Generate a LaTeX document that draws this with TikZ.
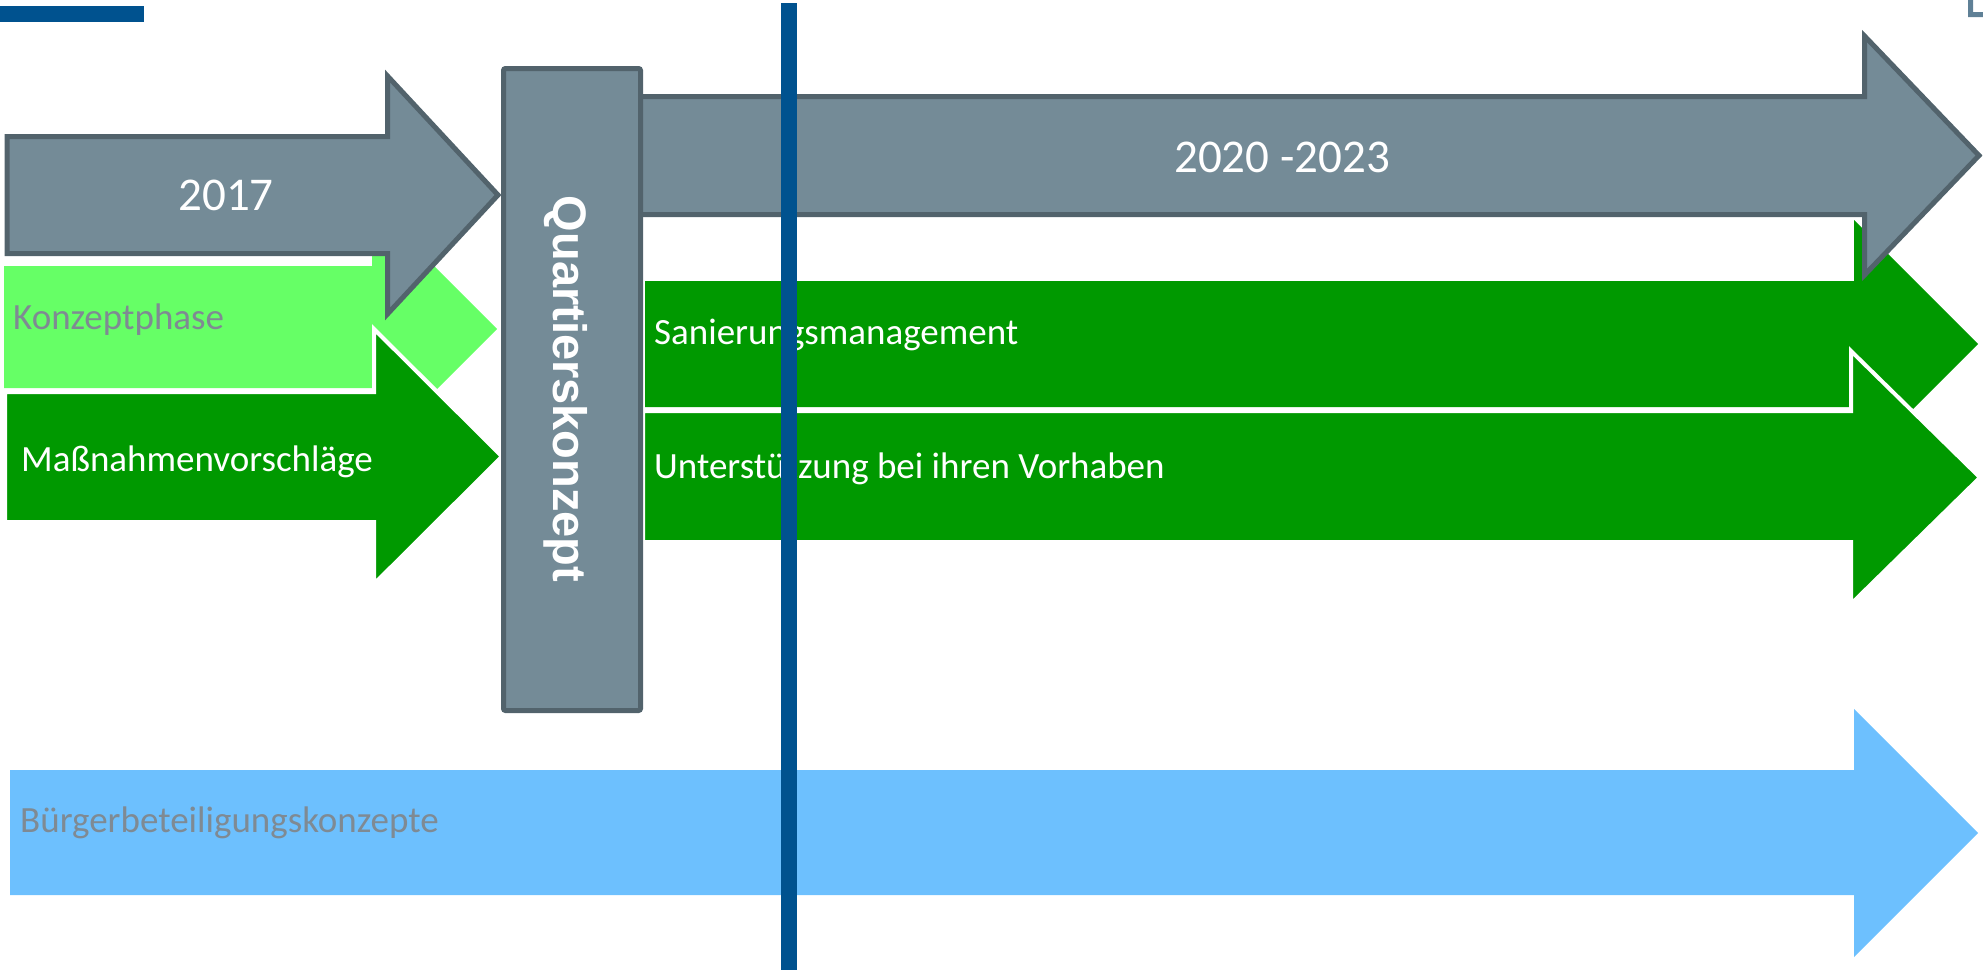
\documentclass[tikz,border=0pt]{standalone}
\usepackage{fontspec}
\setmainfont{Carlito}
\newfontfamily\qfont{Liberation Sans}
\definecolor{qgray}{HTML}{748B97}
\definecolor{qedge}{HTML}{52636C}
\definecolor{lgreen}{HTML}{66FF66}
\definecolor{dgreen}{HTML}{009900}
\definecolor{lblue}{HTML}{6DC0FE}
\definecolor{navy}{HTML}{00528F}
\definecolor{txtgray}{HTML}{7F8A93}
\definecolor{cornerblue}{HTML}{5F8096}
\tikzset{
  grayarrow/.style={fill=qgray, draw=qedge, line width=5bp, miter limit=10},
  greenarrow/.style={fill=dgreen},
  outlinedgreen/.style={fill=dgreen, draw=white, line width=4bp},
  label/.style={inner sep=0pt, anchor=base west, font=\fontsize{37bp}{44bp}\selectfont},
  yearlabel/.style={inner sep=0pt, anchor=base, text=white, font=\fontsize{47bp}{56bp}\selectfont}
}
\begin{document}
\begin{tikzpicture}[x=1bp,y=-1bp]
\useasboundingbox (0,0) rectangle (1983,974);
% top-left bar and corner mark
\fill[navy] (0,6) rectangle (144,22);
\fill[cornerblue] (1968,0) -- (1973,0) -- (1973,12) -- (1983,12) -- (1983,17) -- (1968,17) -- cycle;
% Konzeptphase (light green)
\fill[lgreen] (4,266) -- (372,266) -- (372,204) -- (497,329) -- (372,454) -- (372,388) -- (4,388) -- cycle;
\node[label, text=txtgray] (konzept) at (13,329) {Konzeptphase};
% 2017 arrow
\draw[grayarrow] (7,136.5) -- (387.5,136.5) -- (387.5,76) -- (498,195) -- (387.5,314) -- (387.5,253.5) -- (7,253.5) -- cycle;
\node[yearlabel] (y2017) at (226,210) {2017};
% Massnahmen arrow
\draw[outlinedgreen] (5,392) -- (374,392) -- (374,329) -- (502,456.5) -- (374,584) -- (374,522) -- (5,522) -- cycle;
\node[label, text=white] (massn) at (21,471) {Maßnahmenvorschläge};
% Sanierungsmanagement arrow
\fill[dgreen] (645,281) -- (1854,281) -- (1854,220) -- (1978,344) -- (1854,468) -- (1854,407) -- (645,407) -- cycle;
\node[label, text=white] (sanier) at (654,344) {Sanierungsmanagement};
% Unterstuetzung arrow
\draw[outlinedgreen] (643,411) -- (1851,411) -- (1851,351) -- (1980,477.5) -- (1851,604) -- (1851,542) -- (643,542) -- cycle;
\node[label, text=white] (unterst) at (654,478) {Unterstützung bei ihren Vorhaben};
% 2020-2023 arrow
\draw[grayarrow] (640,96.5) -- (1864.5,96.5) -- (1864.5,36) -- (1979,155.5) -- (1864.5,275) -- (1864.5,214.5) -- (640,214.5) -- cycle;
\node[yearlabel] (y2020) at (1282,172) {2020 -2023};
% Quartierskonzept box
\draw[grayarrow, rounded corners=2bp] (503.5,68.5) rectangle (640.5,710.5);
\node[inner sep=0pt, rotate=-90, text=white, font=\qfont\bfseries\fontsize{47bp}{56bp}\selectfont] (quartier) at (566,389) {Quartierskonzept};
% Buergerbeteiligung arrow
\fill[lblue] (10,770) -- (1854,770) -- (1854,709) -- (1978,833) -- (1854,957) -- (1854,895) -- (10,895) -- cycle;
\node[label, text=txtgray] (buerger) at (20,832) {Bürgerbeteiligungskonzepte};
% vertical blue line
\fill[navy] (781,3) rectangle (797,970);
\end{tikzpicture}
\end{document}
